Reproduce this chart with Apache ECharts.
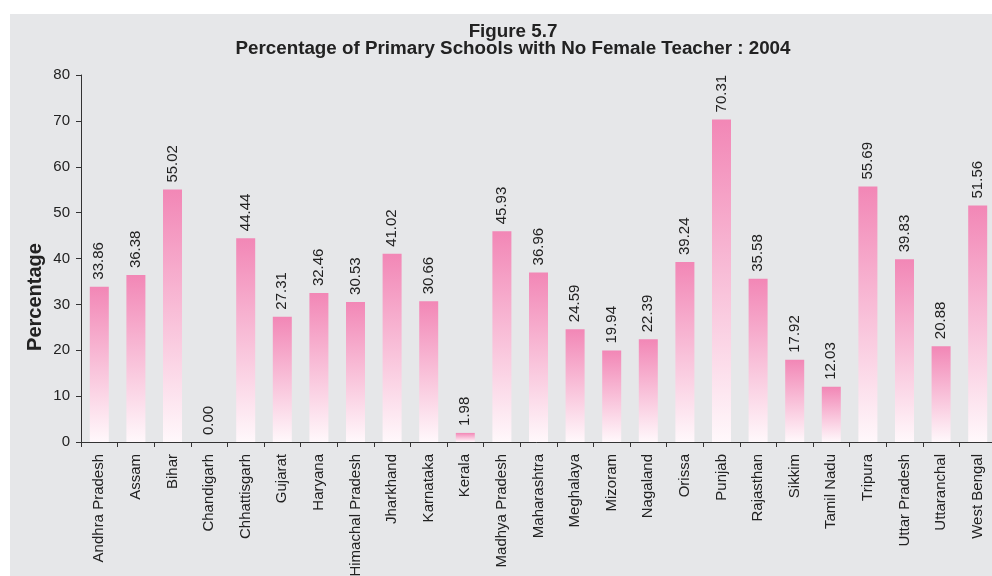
<!DOCTYPE html>
<html>
<head>
<meta charset="utf-8">
<script src="https://cdn.jsdelivr.net/npm/echarts@6/dist/echarts.min.js"></script>
<style>html,body{margin:0;padding:0;background:#fff;}#c{width:992px;height:576px;}</style>
</head>
<body>
<div id="c"></div>
<script>
const categories = ["Andhra Pradesh","Assam","Bihar","Chandigarh","Chhattisgarh","Gujarat","Haryana","Himachal Pradesh","Jharkhand","Karnataka","Kerala","Madhya Pradesh","Maharashtra","Meghalaya","Mizoram","Nagaland","Orissa","Punjab","Rajasthan","Sikkim","Tamil Nadu","Tripura","Uttar Pradesh","Uttaranchal","West Bengal"];
const values = [33.86,36.38,55.02,0.00,44.44,27.31,32.46,30.53,41.02,30.66,1.98,45.93,36.96,24.59,19.94,22.39,39.24,70.31,35.58,17.92,12.03,55.69,39.83,20.88,51.56];
const titleLines = ["Figure 5.7","Percentage of Primary Schools with No Female Teacher : 2004"];
const yAxisName = "Percentage";

const chart = echarts.init(document.getElementById('c'), null, {renderer:'canvas'});
const font = "'Liberation Sans', Arial, Helvetica, sans-serif";
chart.setOption({
  backgroundColor: '#ffffff',
  animation: false,
  textStyle: {fontFamily: font},
  graphic: [
    {type:'rect', z:-10, silent:true, shape:{x:10,y:14,width:990,height:570}, style:{fill:'#e6e7e9'}},
    {type:'text', x:35, y:297, rotation:Math.PI/2, z:10,
     style:{text:yAxisName, fill:'#222', font:'bold 20px ' + font, textAlign:'center', textVerticalAlign:'middle'}}
  ],
  title: {
    text: titleLines.join('\n'),
    left: 508, top: 18, textAlign: 'center',
    textStyle: {fontFamily: font, fontSize: 18.8, fontWeight: 'bold', color: '#222', lineHeight: 17}
  },
  grid: {left: 81, top: 75, width: 915, height: 367, containLabel: false, outerBoundsMode: 'none'},
  xAxis: {
    type: 'category', data: categories,
    axisLine: {lineStyle: {color: '#333', width: 1}},
    axisTick: {show: true, length: 5, lineStyle: {color: '#333'}},
    axisLabel: {rotate: 90, interval: 0, fontSize: 15, color: '#222', margin: 12, fontFamily: font}
  },
  yAxis: {
    type: 'value', min: 0, max: 80, interval: 10,
    splitLine: {show: false},
    axisLine: {show: true, lineStyle: {color: '#333', width: 1}},
    axisTick: {show: true, length: 5, lineStyle: {color: '#333'}},
    axisLabel: {fontSize: 15, color: '#222', margin: 11, fontFamily: font}
  },
  series: [{
    type: 'bar', data: values, barWidth: 19,
    itemStyle: {
      color: new echarts.graphic.LinearGradient(0, 0, 0, 1, [
        {offset: 0, color: '#f287b6'},
        {offset: 1, color: '#fff8fb'}
      ])
    },
    label: {
      show: true, position: 'top', rotate: 90, distance: 7,
      align: 'left', verticalAlign: 'middle',
      fontSize: 15, color: '#222', fontFamily: font,
      formatter: p => p.value.toFixed(2)
    }
  }]
});
</script>
</body>
</html>
